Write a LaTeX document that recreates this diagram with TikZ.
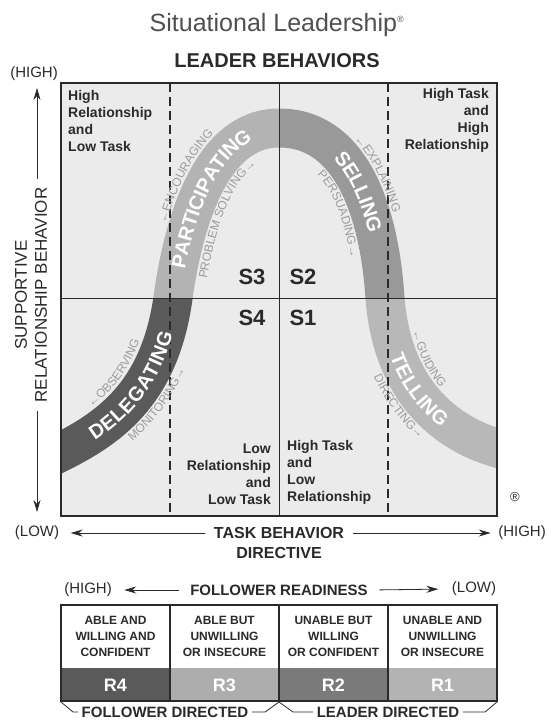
\documentclass[tikz,border=0pt]{standalone}
\usepackage{fontspec}
\setmainfont{Liberation Sans}
\usetikzlibrary{arrows.meta,decorations.text}

\definecolor{ink}{HTML}{2A2A2A}
\definecolor{titlegray}{HTML}{4F4F4F}
\definecolor{gridbg}{HTML}{EBEBEB}
\definecolor{delegcol}{HTML}{5A5A5A}
\definecolor{particol}{HTML}{B3B3B3}
\definecolor{sellcol}{HTML}{999999}
\definecolor{tellcol}{HTML}{B8B8B8}
\definecolor{cuegray}{HTML}{9C9C9C}
\definecolor{rfour}{HTML}{5A5A5A}
\definecolor{rthree}{HTML}{ADADAD}
\definecolor{rtwo}{HTML}{7A7A7A}
\definecolor{rone}{HTML}{B3B3B3}

\newcommand\bandfont{\fontsize{20}{20}\selectfont\bfseries\color{white}}
\newcommand\cuefont{\fontsize{12}{12}\selectfont\color{cuegray}}

\begin{document}
\begin{tikzpicture}[x=1pt, y=-1pt,
  quad/.style={font=\fontsize{14}{17}\selectfont\bfseries, text=ink, inner sep=0pt},
  stylelab/.style={font=\fontsize{22}{22}\selectfont\bfseries, text=ink},
  axislab/.style={font=\fontsize{16}{20}\selectfont\bfseries, text=ink},
  endlab/.style={font=\fontsize{15}{15}\selectfont, text=ink},
  axisarr/.style={draw=ink, line width=0.8pt, shorten <=5pt, shorten >=4pt, -{Stealth[length=12pt,width=7pt]}},
  band/.style={line width=39pt},
  bandtext/.style={decorate, decoration={text along path, text align=center, raise=-7pt, text={|\bandfont|#1}}},
  cuetext/.style={decorate, decoration={text along path, text align=center, text={|\cuefont|#1}}},
  midline/.style={draw=ink, line width=0.9pt},
  divider/.style={draw=ink, line width=1.1pt, dash pattern=on 9pt off 5pt},
  readycell/.style={font=\fontsize{12}{16}\selectfont\bfseries, text=ink, align=center},
  levelcell/.style={font=\fontsize{18}{18}\selectfont\bfseries, text=white},
  brace/.style={draw=ink, line width=0.8pt}
]
\useasboundingbox (0,0) rectangle (550,720);

% headings
\node[font=\fontsize{25}{25}\selectfont, text=titlegray] (title) at (277,25)
  {Situational Leadership\textsuperscript{\fontsize{9}{9}\selectfont\textregistered}};
\node[font=\fontsize{20}{20}\selectfont\bfseries, text=ink] (lbeh) at (277,61) {LEADER BEHAVIORS};

% the four quadrants
\fill[gridbg] (61,83) rectangle (497,516);

% the bell shaped band, one tone per quadrant
\coordinate (bl) at (61,452);
\coordinate (bm) at (173,298);
\coordinate (bt) at (279,128);
\coordinate (bn) at (385,298);
\coordinate (br) at (497,448);
\def\bandpath{(25,470) -- (bl) .. controls (113,426) and (160,390) .. (bm)
  .. controls (183,225) and (210,128) .. (bt)
  .. controls (355,128) and (380,220) .. (bn)
  .. controls (392,390) and (445,433) .. (br) -- (533,458)}
\foreach \xa/\ya/\xb/\yb/\tone in {61/298/279/516/delegcol, 61/83/279/298/particol,
    279/83/497/298/sellcol, 279/298/497/516/tellcol}{
  \begin{scope}
    \clip (\xa,\ya) rectangle (\xb,\yb);
    \draw[band, draw=\tone] \bandpath;
  \end{scope}
}

% grid lines
\draw[divider] (170,83) -- (170,516);
\draw[divider] (388,83) -- (388,516);
\draw[midline] (279,83) -- (279,516);
\draw[midline] (61,298) -- (497,298);

% style names on the band
\path[bandtext=DELEGATING] (bl) .. controls (113,426) and (160,390) .. (bm);
\path[bandtext=PARTICIPATING] (bm) .. controls (183,225) and (210,128) .. (bt);
\path[bandtext=SELLING] (bt) .. controls (355,128) and (380,220) .. (bn);
\path[bandtext=TELLING] (bn) .. controls (392,390) and (445,433) .. (br);

% behaviours beside the band (outer and inner edge curves)
\path[cuetext={←OBSERVING}] (50.9,431.9) .. controls (97.6,409.4) and (139,377.7) .. (150.7,294.9);
\path[cuetext={MONITORING→}] (74.6,479.3) .. controls (129.3,451.9) and (188.5,406.6) .. (203.2,302.3);
\path[cuetext={←ENCOURAGING}] (150.7,295) .. controls (160.9,220.4) and (192.9,105.5) .. (279,105.5);
\path[cuetext={PROBLEM SOLVING→}] (203.2,302.1) .. controls (213,231.1) and (233.2,158.5) .. (279,158.5);
\path[cuetext={←EXPLAINING}] (279,105.5) .. controls (372.2,105.5) and (402.4,216.7) .. (407.5,296.6);
\path[cuetext={PERSUADING→}] (279,158.5) .. controls (331.7,158.5) and (349.8,225.2) .. (354.6,300);
\path[cuetext={←GUIDING}, decoration={text align={left, left indent=36pt}}]
  (407.4,296.3) .. controls (413.6,378.5) and (455.8,412.8) .. (503.2,426.4);
\path[cuetext={DIRECTING→}] (354.6,300.3) .. controls (362.6,405.4) and (430.5,460.6) .. (488.6,477.3);

% quadrant captions
\node[quad, anchor=north west, align=left] (hrlt) at (68,90) {High\\Relationship\\and\\Low Task};
\node[quad, anchor=north east, align=right] (hthr) at (489,88) {High Task\\and\\High\\Relationship};
\node[quad, anchor=south east, align=right] (lrlt) at (271,505) {Low\\Relationship\\and\\Low Task};
\node[quad, anchor=south west, align=left] (htlr) at (287,505) {High Task\\and\\Low\\Relationship};

\node[stylelab] (s3) at (252,277) {S3};
\node[stylelab] (s2) at (303,277) {S2};
\node[stylelab] (s4) at (252,318) {S4};
\node[stylelab] (s1) at (303,318) {S1};

\draw[ink, line width=1.6pt] (61,83) rectangle (497,516);
\node[font=\fontsize{13}{13}\selectfont, text=ink] (regmark) at (515,497) {\textregistered};

% vertical axis
\node[endlab] (highy) at (34,74) {(HIGH)};
\coordinate (yup) at (37,88);
\coordinate (ydn) at (37,512);
\node[font=\fontsize{17}{20}\selectfont, text=ink, rotate=90, align=center] (vlab) at (31,295)
  {SUPPORTIVE\\RELATIONSHIP BEHAVIOR};
\draw[axisarr, shorten >=0pt] (vlab.east -| yup) -- (yup);
\draw[axisarr, shorten >=0pt] (vlab.west -| ydn) -- (ydn);

% horizontal axis
\node[endlab] (lowx) at (37,533) {(LOW)};
\node[endlab] (highx) at (522,533) {(HIGH)};
\node[axislab] (taskb) at (279,533) {TASK BEHAVIOR};
\node[axislab] (direc) at (279,553) {DIRECTIVE};
\draw[axisarr, shorten >=8pt] (taskb.west) -- (lowx.east);
\draw[axisarr] (taskb.east) -- (highx.west);

% follower readiness scale
\node[endlab] (highr) at (88,590) {(HIGH)};
\node[endlab] (lowr) at (474,589) {(LOW)};
\node[axislab, font=\fontsize{15}{15}\selectfont\bfseries] (fread) at (279,590) {FOLLOWER READINESS};
\draw[axisarr, shorten <=8pt, shorten >=9pt] (fread.west) -- (highr.east);
\draw[axisarr, shorten <=8pt, shorten >=10pt] (fread.east) -- (lowr.west);

\foreach \i/\txt/\lev/\tone in {0/{ABLE AND\\WILLING AND\\CONFIDENT}/R4/rfour,
    1/{ABLE BUT\\UNWILLING\\OR INSECURE}/R3/rthree,
    2/{UNABLE BUT\\WILLING\\OR CONFIDENT}/R2/rtwo,
    3/{UNABLE AND\\UNWILLING\\OR INSECURE}/R1/rone}{
  \fill[white] (61+109*\i,605) rectangle ++(109,63);
  \fill[\tone] (61+109*\i,668) rectangle ++(109,33);
  \node[readycell] (ready\i) at (115.5+109*\i,636) {\txt};
  \node[levelcell] (level\i) at (115.5+109*\i,685) {\lev};
}
\draw[ink, line width=1.5pt] (61,605) rectangle (497,701);
\foreach \x in {170,279,388}
  \draw[ink, line width=1.2pt] (\x,605) -- (\x,701);

% who directs
\node[axislab, font=\fontsize{15}{15}\selectfont\bfseries] (fdir) at (165,712) {FOLLOWER DIRECTED};
\node[axislab, font=\fontsize{15}{15}\selectfont\bfseries] (ldir) at (388,712) {LEADER DIRECTED};
\draw[brace] (61,702) -- (73,712) -- (fdir.west);
\draw[brace] (fdir.east) -- (265,712) -- (279,702) -- (293,712) -- (ldir.west);
\draw[brace] (ldir.east) -- (485,712) -- (497,702);
\end{tikzpicture}
\end{document}
